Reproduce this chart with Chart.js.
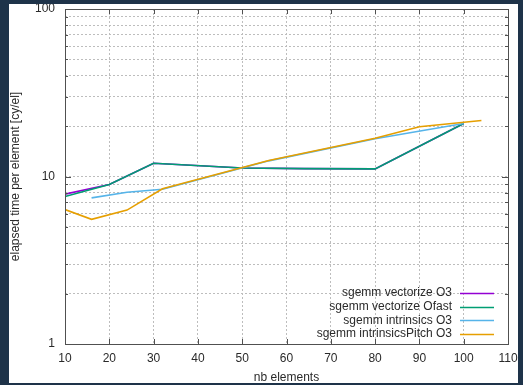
<!DOCTYPE html>
<html>
<head>
<meta charset="utf-8">
<script src="https://cdn.jsdelivr.net/npm/chart.js@4.4.1/dist/chart.umd.min.js"></script>
<style>
  html, body { margin: 0; padding: 0; background: #1e3349; overflow: hidden; }
  #chart { display: block; }
</style>
</head>
<body>
<canvas id="chart" width="523" height="385"></canvas>
<script>
// Data
const xVecO3 = [10, 20, 30, 50, 64, 80, 100];
const yVecO3 = [7.85, 8.95, 12.0, 11.25, 11.15, 11.1, 20.7];

const xVecOfast = [10, 20, 30, 50, 64, 80, 100];
const yVecOfast = [7.6, 8.95, 12.0, 11.25, 11.15, 11.1, 20.7];

const xIntrO3 = [16, 24, 32, 56, 80, 100];
const yIntrO3 = [7.45, 8.05, 8.4, 12.4, 16.8, 20.7];

const xPitchO3 = [10, 16, 24, 32, 56, 80, 90, 104];
const yPitchO3 = [6.35, 5.55, 6.3, 8.45, 12.45, 16.9, 19.8, 21.6];

const yTicks = [1, 2, 3, 4, 5, 6, 7, 8, 9, 10, 20, 30, 40, 50, 60, 70, 80, 90, 100];
const yLabels = [1, 10, 100];

const seriesNames = ['sgemm vectorize O3', 'sgemm vectorize Ofast', 'sgemm intrinsics O3', 'sgemm intrinsicsPitch O3'];
const seriesColors = ['#9400d3', '#009e73', '#56b4e9', '#e69f00'];

const pts = (xs, ys) => xs.map((x, i) => ({ x: x, y: ys[i] }));

const FONT = 'Liberation Sans, Arial, sans-serif';
const TEXT = '#2a2a2a';
const BG = '#1e3349';

// gnuplot-ish frame: white panel, inward ticks, legend, dark border on top
const gnuplotFrame = {
    id: 'gnuplotFrame',
    beforeDraw(chart) {
        const c = chart.ctx;
        c.save();
        c.fillStyle = BG;
        c.fillRect(0, 0, chart.width, chart.height);
        c.fillStyle = '#ffffff';
        c.fillRect(9, 4, 509, 379);
        c.restore();
    },
    afterDraw(chart) {
        const c = chart.ctx;
        const a = chart.chartArea;
        const xs = chart.scales.x, ys = chart.scales.y;
        c.save();
        c.strokeStyle = '#505050';
        c.lineWidth = 1;

        // border
        c.strokeRect(Math.round(a.left) + 0.5, Math.round(a.top) + 0.5,
            Math.round(a.right - a.left), Math.round(a.bottom - a.top));

        // x ticks, bottom and mirrored top
        c.beginPath();
        xs.ticks.forEach(t => {
            const px = Math.round(xs.getPixelForValue(t.value)) + 0.5;
            c.moveTo(px, a.bottom); c.lineTo(px, a.bottom - 5);
            c.moveTo(px, a.top); c.lineTo(px, a.top + 5);
        });
        // y ticks, left and mirrored right
        yTicks.forEach(v => {
            const py = Math.round(ys.getPixelForValue(v)) + 0.5;
            const len = yLabels.includes(v) ? 6 : 3;
            c.moveTo(a.left, py); c.lineTo(a.left + len, py);
            c.moveTo(a.right, py); c.lineTo(a.right - len, py);
        });
        c.stroke();

        // legend: right aligned text, sample line to the right
        c.font = '12px ' + FONT;
        c.textAlign = 'right';
        c.textBaseline = 'middle';
        seriesNames.forEach((name, i) => {
            const y = 293 + i * 13.6;
            c.fillStyle = TEXT;
            c.fillText(name, 452, y);
            c.strokeStyle = seriesColors[i];
            c.lineWidth = 1.6;
            c.beginPath();
            c.moveTo(460, Math.round(y) + 0.5);
            c.lineTo(494, Math.round(y) + 0.5);
            c.stroke();
        });

        // dark outer frame over anything that spills out of the panel
        c.fillStyle = BG;
        c.fillRect(0, 0, chart.width, 4);
        c.fillRect(0, 383, chart.width, chart.height - 383);
        c.fillRect(0, 0, 9, chart.height);
        c.fillRect(518, 0, chart.width - 518, chart.height);
        c.restore();
    }
};

const ctx = document.getElementById('chart').getContext('2d');

new Chart(ctx, {
    type: 'line',
    plugins: [gnuplotFrame],
    data: {
        datasets: [
            { label: seriesNames[0], data: pts(xVecO3, yVecO3), borderColor: seriesColors[0], order: 4 },
            { label: seriesNames[1], data: pts(xVecOfast, yVecOfast), borderColor: seriesColors[1], order: 3 },
            { label: seriesNames[2], data: pts(xIntrO3, yIntrO3), borderColor: seriesColors[2], order: 2 },
            { label: seriesNames[3], data: pts(xPitchO3, yPitchO3), borderColor: seriesColors[3], order: 1 }
        ]
    },
    options: {
        responsive: false,
        animation: false,
        devicePixelRatio: 1,
        layout: { padding: { top: 9, right: 15, left: 0, bottom: 0 } },
        elements: {
            line: { borderWidth: 1.6, tension: 0, fill: false },
            point: { radius: 0 }
        },
        plugins: {
            legend: { display: false },
            tooltip: { enabled: false }
        },
        scales: {
            x: {
                type: 'linear',
                min: 10,
                max: 110,
                afterFit: s => { s.height = 41; s.paddingLeft = 0; s.paddingRight = 0; },
                ticks: { stepSize: 10, padding: 7, color: TEXT, font: { family: FONT, size: 12 }, maxRotation: 0, autoSkip: false },
                grid: { color: '#bdbdbd', drawTicks: false, lineWidth: 1 },
                border: { display: false, dash: [2, 2] },
                title: { display: true, text: 'nb elements', color: TEXT, font: { family: FONT, size: 12 }, padding: { top: -6, bottom: 0 } }
            },
            y: {
                type: 'logarithmic',
                min: 1,
                max: 100,
                afterFit: s => { s.width = 65; s.paddingTop = 0; s.paddingBottom = 0; },
                afterBuildTicks: s => { s.ticks = yTicks.map(v => ({ value: v })); },
                ticks: {
                    padding: 10,
                    autoSkip: false,
                    color: TEXT,
                    font: { family: FONT, size: 12 },
                    callback: v => yLabels.includes(v) ? String(v) : ''
                },
                grid: { color: '#bdbdbd', drawTicks: false, lineWidth: 1 },
                border: { display: false, dash: [2, 2] },
                title: { display: true, text: 'elapsed time per element [cy/el]', color: TEXT, font: { family: FONT, size: 12 }, padding: { top: 8, bottom: 0 } }
            }
        }
    }
});
</script>
</body>
</html>
